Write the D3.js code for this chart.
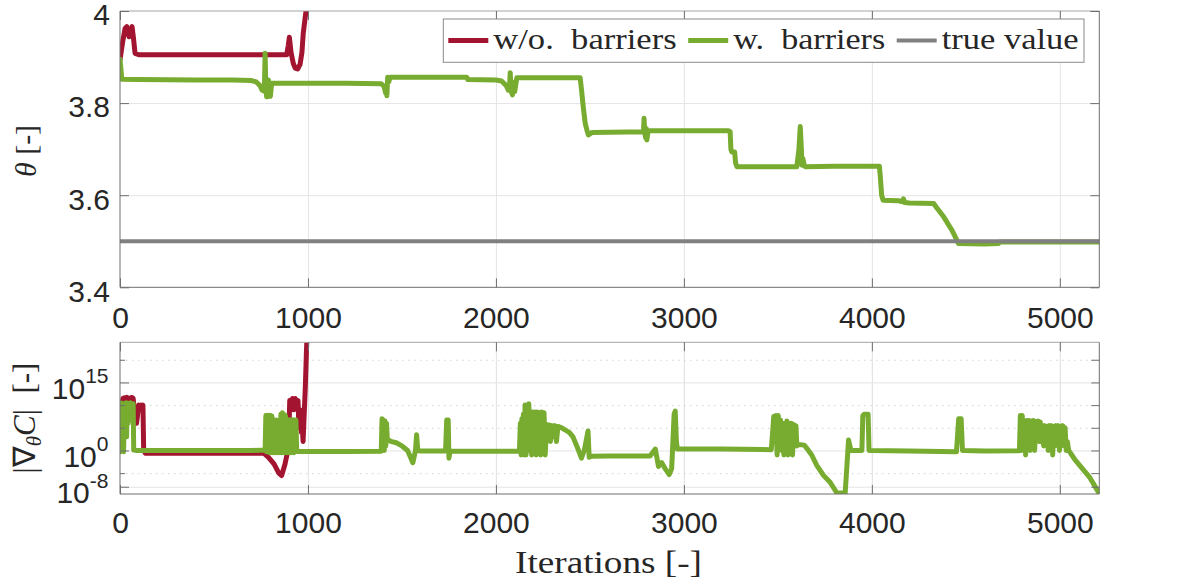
<!DOCTYPE html>
<html>
<head>
<meta charset="utf-8">
<script src="https://cdn.jsdelivr.net/npm/d3@7"></script>
<style>
  body { margin: 0; background: #fff; }
  svg { display: block; }
</style>
</head>
<body>
<svg id="chart" width="1196" height="587"></svg>
<script>
// ---- data ----
const iterMax = 5210;
const xTicks = [0, 1000, 2000, 3000, 4000, 5000];
const thetaTicks = [3.4, 3.6, 3.8, 4];
const gradMajorTicks = [1e-8, 1e0, 1e15];
const gradMinorTicks = [1e-5, 1e5, 1e10, 1e20];
const trueValue = 3.5;
const legendLabels = ['w/o. barriers', 'w. barriers', 'true value'];

// [iteration, theta]
const thetaNoBarrier = [
  [0, 3.894], [15, 3.935], [27, 3.962], [36, 3.966], [48, 3.944], [56, 3.955], [64, 3.966],
  [72, 3.94], [80, 3.908], [100, 3.905], [400, 3.905], [700, 3.905], [887, 3.905],
  [895, 3.925], [901, 3.943], [910, 3.91], [922, 3.886], [932, 3.876], [945, 3.874],
  [958, 3.884], [968, 3.91], [975, 3.952], [985, 3.985], [993, 4.01], [1000, 4.06]
];
const thetaBarrier = [
  [0, 3.895], [10, 3.852], [100, 3.851], [400, 3.850], [600, 3.850], [700, 3.849],
  [725, 3.846], [745, 3.838], [756, 3.828], [768, 3.826], [772, 3.908], [776, 3.83],
  [780, 3.814], [786, 3.814], [790, 3.85], [795, 3.816], [800, 3.815], [807, 3.843],
  [1000, 3.843], [1200, 3.843], [1390, 3.842], [1405, 3.836], [1413, 3.822], [1418, 3.83],
  [1420, 3.816], [1424, 3.856], [1430, 3.846], [1437, 3.856], [1600, 3.856], [1845, 3.856],
  [1850, 3.851], [2000, 3.850], [2030, 3.848], [2055, 3.838], [2066, 3.828], [2072, 3.834],
  [2076, 3.866], [2081, 3.826], [2088, 3.818], [2094, 3.845], [2100, 3.825], [2111, 3.855],
  [2300, 3.855], [2448, 3.855], [2455, 3.83], [2465, 3.79], [2475, 3.756], [2485, 3.74],
  [2492, 3.731], [2510, 3.736], [2700, 3.737], [2785, 3.737], [2788, 3.767], [2792, 3.735],
  [2797, 3.724], [2800, 3.745], [2803, 3.720], [2810, 3.74], [3000, 3.740], [3237, 3.740],
  [3246, 3.738], [3250, 3.70], [3255, 3.694], [3270, 3.694], [3275, 3.67], [3282, 3.662],
  [3450, 3.662], [3601, 3.662], [3612, 3.70], [3619, 3.749], [3625, 3.70], [3628, 3.665],
  [3633, 3.68], [3640, 3.665], [3645, 3.662], [3800, 3.663], [4040, 3.663], [4045, 3.64],
  [4052, 3.60], [4060, 3.589], [4140, 3.588], [4160, 3.586], [4168, 3.592], [4175, 3.584],
  [4200, 3.583], [4329, 3.582], [4346, 3.572], [4382, 3.553], [4426, 3.524], [4461, 3.495],
  [4600, 3.494], [4674, 3.495], [4680, 3.4985], [5210, 3.4985]
];

// [iteration, |grad C|]
const gradNoBarrier = [
  [0, 1e8], [4, 1e0], [9, 1e10], [16, 3e11], [24, 4e11], [30, 1e11], [36, 5e11], [44, 3e11],
  [50, 1e11], [56, 4e11], [64, 5e11], [70, 3e11], [76, 1e9], [82, 1e7], [88, 1e6], [94, 1e8],
  [100, 1e10], [106, 1e9], [112, 1e10], [118, 5e9], [122, 1e10], [126, 1e0], [135, 2.5e-1],
  [400, 2.5e-1], [765, 2.5e-1], [790, 3e-2], [820, 1e-3], [845, 1e-5], [860, 3e-6], [878, 1e-3],
  [893, 1e0], [898, 1e3], [903, 1e11], [910, 1e9], [918, 3e11], [925, 1e9], [932, 3e11],
  [940, 1e10], [947, 1e11], [952, 1e5], [958, 1e9], [965, 1e4], [970, 1e5], [974, 1e2],
  [980, 1e8], [986, 1e14], [992, 1e22], [1000, 1e30]
];
const gradBarrier = [
  [0, 1e10], [3, 5e-1], [7, 3e10], [12, 1e5], [16, 2e10], [19, 5e-1], [24, 2e10], [30, 3e10],
  [35, 1e3], [38, 3e10], [44, 1e6], [48, 2e10], [55, 3e10], [60, 1e8], [64, 2e10], [70, 2e10],
  [73, 1.2e0], [90, 1e0], [300, 1e0], [500, 1e0], [700, 1e0], [772, 1.2e0],
  [776, 5e7], [780, 5e-1], [784, 6e7], [788, 1e0], [792, 5e7], [796, 3e-1], [800, 6e7],
  [804, 1e1], [808, 4e7], [812, 3e-1], [816, 5e6], [820, 1e0], [824, 5e6], [828, 3e-1],
  [832, 5e6], [836, 1e1], [840, 4e6], [844, 3e-1], [848, 5e6], [852, 1e0], [856, 1e8],
  [860, 3e-1], [864, 2e8], [868, 1e1], [872, 1e8], [876, 3e-1], [880, 5e7], [884, 1e0],
  [888, 6e6], [892, 3e-1], [896, 5e6], [900, 1e1], [904, 6e6], [908, 3e-1], [912, 5e6],
  [916, 1e0], [920, 6e6], [924, 3e-1], [928, 5e6], [932, 1e0], [936, 5e6], [940, 6e-1],
  [1000, 6e-1], [1200, 6e-1], [1390, 7e-1],
  [1394, 1e7], [1398, 1e1], [1402, 5e6], [1406, 1e0], [1410, 3e6], [1414, 1e1], [1418, 1e6],
  [1422, 3e2], [1440, 1e2], [1470, 5e1], [1500, 1e1], [1530, 1e0], [1558, 2e-3], [1572, 1e0],
  [1578, 3e3], [1584, 1e0], [1600, 8e-1], [1732, 8e-1], [1738, 5e6], [1746, 5e6], [1750, 2e-2],
  [1756, 8e-1], [1900, 7e-1], [2125, 7e-1],
  [2130, 1e6], [2134, 1e-1], [2138, 1e7], [2142, 1e0], [2146, 1e8], [2150, 1e-1], [2155, 1e10],
  [2160, 1e-1], [2165, 1e10], [2170, 1e2], [2175, 2e10], [2180, 1e0], [2186, 3e8], [2190, 1e-1],
  [2196, 3e8], [2202, 1e3], [2208, 3e8], [2214, 1e-1], [2220, 3e8], [2226, 1e4], [2232, 2e8],
  [2238, 1e-1], [2244, 3e8], [2250, 1e3], [2256, 2e8], [2262, 1e-1], [2270, 5e5], [2276, 1e3],
  [2284, 4e5], [2290, 1e2], [2298, 3e5], [2306, 1e3], [2314, 3e5], [2322, 1e2], [2330, 2e5],
  [2350, 1e5], [2370, 3e4], [2390, 1e4], [2410, 1e3], [2430, 1e1], [2455, 2e-2], [2470, 1e0],
  [2490, 2e4], [2496, 3e-2], [2505, 5e-2], [2600, 6e-2], [2820, 6e-2], [2848, 2e0],
  [2865, 3e-4], [2882, 2e-3], [2900, 1e-4], [2922, 5e-6], [2935, 1e-4], [2948, 1e8],
  [2954, 5e8], [2960, 1e2], [2965, 2e0], [3200, 2e0], [3465, 1.5e0],
  [3472, 1e4], [3478, 3e7], [3484, 1e2], [3490, 5e7], [3496, 1e-1], [3502, 5e7], [3508, 1e3],
  [3514, 5e6], [3520, 1e0], [3526, 1e6], [3532, 1e-1], [3538, 1e6], [3544, 1e2], [3548, 3e6],
  [3554, 1e-1], [3560, 1e6], [3566, 1e1], [3572, 1e6], [3578, 1e-1], [3584, 5e5], [3590, 1e1],
  [3596, 3e5], [3601, 1e1], [3610, 2e1], [3640, 1.5e1], [3654, 3e0], [3680, 1e-1],
  [3707, 5e-4], [3743, 3e-6], [3778, 1e-7], [3814, 4e-10], [3858, 4e-10], [3876, 2e2],
  [3889, 1e0], [3947, 1e0], [3952, 5e7], [3960, 1e8], [3980, 1e8], [3985, 1e0], [3992, 1e0],
  [4200, 8e-1], [4450, 5e-1], [4462, 1e7], [4475, 1e7], [4482, 1e0], [4489, 1e0],
  [4600, 8e-1], [4785, 9e-1],
  [4790, 5e7], [4795, 1e0], [4800, 5e7], [4806, 1e1], [4812, 3e6], [4818, 1e-1], [4824, 4e6],
  [4830, 1e1], [4836, 4e6], [4842, 1e0], [4848, 3e6], [4854, 1e2], [4860, 4e6], [4866, 1e0],
  [4872, 2e6], [4878, 1e3], [4884, 3e6], [4890, 1e2], [4896, 2e6], [4902, 1e2], [4908, 3e5],
  [4914, 1e1], [4920, 3e5], [4926, 1e2], [4932, 2e5], [4938, 1e0], [4944, 3e5], [4950, 1e1],
  [4956, 3e5], [4962, 1e-1], [4968, 2e5], [4974, 1e1], [4980, 3e5], [4986, 1e2], [4992, 3e5],
  [4998, 1e0], [5004, 2e5], [5010, 1e1], [5016, 3e5], [5022, 1e2], [5028, 1e5], [5034, 1e0],
  [5040, 1e2], [5047, 1e0], [5080, 1e-2], [5120, 1e-4], [5160, 1e-6], [5207, 5e-10]
];

// ---- layout ----
const colors = ['#A2142F', '#77AC30', '#808080'];
const axisColor = '#6e6e6e';
const gridColor = '#e4e4e4';
const textColor = '#262626';
const sansFont = '"Liberation Sans", Arial, Helvetica, sans-serif';
const serifFont = '"Liberation Serif", "Times New Roman", serif';

const plotLeft = 120, plotRight = 1099.3;
const top1 = 11, bot1 = 287.3;
const top2 = 342.3, bot2 = 494;

const svg = d3.select('#chart');

const x = d3.scaleLinear().domain([0, iterMax]).range([plotLeft, plotRight]);
const yTheta = d3.scaleLinear().domain([3.4, 4]).range([bot1, top1]);
const yGrad = d3.scaleLog().domain([Math.pow(10, -9.6), Math.pow(10, 23.85)]).range([bot2, top2]);

const defs = svg.append('defs');
[['clipTop', top1, bot1], ['clipBot', top2, bot2]].forEach(([id, t, b]) => {
    defs.append('clipPath').attr('id', id)
        .append('rect')
        .attr('x', plotLeft).attr('y', t)
        .attr('width', plotRight - plotLeft).attr('height', b - t);
});

function styleAxis (g) {
    g.attr('font-family', sansFont).attr('font-size', 30);
    g.select('.domain').remove();
    g.selectAll('.tick line').attr('stroke', axisColor);
    g.selectAll('.tick text').attr('fill', textColor);
}

function drawGrid (yScale, yGridTicks, top, bot, dashed) {
    const g = svg.append('g');
    g.append('g')
        .attr('transform', `translate(0,${bot})`)
        .call(d3.axisBottom(x).tickValues(xTicks.slice(1)).tickSize(-(bot - top)).tickFormat(''))
        .call(s => s.select('.domain').remove())
        .selectAll('line').attr('stroke', gridColor);
    g.append('g')
        .attr('transform', `translate(${plotLeft},0)`)
        .call(d3.axisLeft(yScale).tickValues(yGridTicks).tickSize(-(plotRight - plotLeft)).tickFormat(''))
        .call(s => s.select('.domain').remove())
        .selectAll('line')
        .attr('stroke', dashed ? '#d2d2d2' : gridColor)
        .attr('stroke-dasharray', dashed ? '1.5,4.5' : null);
}

function drawBox (top, bot) {
    const g = svg.append('g').attr('fill', 'none').attr('stroke-width', 1);
    g.append('line').attr('x1', plotLeft).attr('x2', plotRight).attr('y1', top).attr('y2', top).attr('stroke', '#a4a4a4');
    g.append('line').attr('x1', plotLeft).attr('x2', plotRight).attr('y1', bot).attr('y2', bot).attr('stroke', axisColor);
    g.append('line').attr('x1', plotLeft).attr('x2', plotLeft).attr('y1', top).attr('y2', bot).attr('stroke', axisColor);
    g.append('line').attr('x1', plotRight).attr('x2', plotRight).attr('y1', top).attr('y2', bot).attr('stroke', axisColor);
}

function drawXAxes (top, bot, padding) {
    svg.append('g')
        .attr('transform', `translate(0,${bot})`)
        .call(d3.axisBottom(x).tickValues(xTicks).tickSize(-9).tickPadding(padding).tickFormat(d3.format('d')))
        .call(styleAxis);
    svg.append('g')
        .attr('transform', `translate(0,${top})`)
        .call(d3.axisTop(x).tickValues(xTicks).tickSize(-9).tickFormat(''))
        .call(styleAxis);
}

function drawSeries (data, yScale, color, clipId, width) {
    const line = d3.line().x(d => x(d[0])).y(d => yScale(d[1]));
    svg.append('path')
        .datum(data)
        .attr('clip-path', `url(#${clipId})`)
        .attr('fill', 'none')
        .attr('stroke', color)
        .attr('stroke-width', width)
        .attr('stroke-linejoin', 'round')
        .attr('stroke-linecap', 'round')
        .attr('d', line);
}

// ---- top panel: theta ----
drawGrid(yTheta, [3.6, 3.8], top1, bot1, false);
drawSeries(thetaNoBarrier, yTheta, colors[0], 'clipTop', 5);
drawSeries(thetaBarrier, yTheta, colors[1], 'clipTop', 5);
drawSeries([[0, trueValue], [iterMax, trueValue]], yTheta, colors[2], 'clipTop', 4);
drawBox(top1, bot1);
drawXAxes(top1, bot1, 19.4);
svg.append('g')
    .attr('transform', `translate(${plotLeft},0)`)
    .call(d3.axisLeft(yTheta).tickValues(thetaTicks).tickSize(-9).tickPadding(10).tickFormat(d3.format('~g')))
    .call(styleAxis)
    .call(g => g.selectAll('.tick text').attr('dy', '0.46em'));
svg.append('g')
    .attr('transform', `translate(${plotRight},0)`)
    .call(d3.axisRight(yTheta).tickValues(thetaTicks).tickSize(-9).tickFormat(''))
    .call(styleAxis);

// ---- bottom panel: gradient norm ----
drawGrid(yGrad, gradMajorTicks, top2, bot2, false);
drawGrid(yGrad, gradMinorTicks, top2, bot2, true);
drawSeries(gradNoBarrier, yGrad, colors[0], 'clipBot', 5);
drawSeries(gradBarrier, yGrad, colors[1], 'clipBot', 5);
drawBox(top2, bot2);
drawXAxes(top2, bot2, 18);

const gradLeft = svg.append('g')
    .attr('transform', `translate(${plotLeft},0)`)
    .call(d3.axisLeft(yGrad).tickValues(gradMajorTicks).tickSize(-9).tickFormat(''))
    .call(styleAxis);
gradLeft.selectAll('.tick text').remove();
gradLeft.selectAll('.tick').each(function (d) {
    const t = d3.select(this).append('text')
        .attr('x', -11.5).attr('y', 16)
        .attr('text-anchor', 'end')
        .attr('fill', textColor)
        .attr('font-size', 30);
    t.append('tspan').text('10');
    t.append('tspan').attr('dy', -15.5).attr('font-size', 21).text(Math.round(Math.log10(d)));
});
svg.append('g')
    .attr('transform', `translate(${plotLeft},0)`)
    .call(d3.axisLeft(yGrad).tickValues(gradMinorTicks).tickSize(-5).tickFormat(''))
    .call(styleAxis);
svg.append('g')
    .attr('transform', `translate(${plotRight},0)`)
    .call(d3.axisRight(yGrad).tickValues(gradMajorTicks.concat(gradMinorTicks)).tickSize(-8).tickFormat(''))
    .call(styleAxis);

// ---- axis labels ----
const thetaLabel = svg.append('text')
    .attr('transform', `translate(36,151) rotate(-90)`)
    .attr('text-anchor', 'middle')
    .attr('font-family', serifFont)
    .attr('font-size', 30)
    .attr('fill', textColor);
thetaLabel.append('tspan').attr('font-style', 'italic').text('θ');
thetaLabel.append('tspan').text(' [-]');

const gradLabel = svg.append('text')
    .attr('transform', `translate(35,418) rotate(-90)`)
    .attr('text-anchor', 'middle')
    .attr('font-family', serifFont)
    .attr('font-size', 31)
    .attr('fill', textColor);
gradLabel.append('tspan').text('|∇');
gradLabel.append('tspan').attr('font-style', 'italic').attr('font-size', 21).attr('dy', 6).text('θ');
gradLabel.append('tspan').attr('font-style', 'italic').attr('dy', -6).text('C');
gradLabel.append('tspan').text('|  [-]');
gradLabel.style('white-space', 'pre');

svg.append('text')
    .attr('x', 608.5).attr('y', 573)
    .attr('text-anchor', 'middle')
    .attr('font-family', serifFont)
    .attr('font-size', 32)
    .attr('fill', textColor)
    .attr('textLength', 187)
    .attr('lengthAdjust', 'spacingAndGlyphs')
    .text('Iterations [-]');

// ---- legend ----
const legendBox = { x: 443.3, y: 19, w: 640.7, h: 43.3 };
const legendTextWidths = [183.4, 152, 137];
svg.append('rect')
    .attr('x', legendBox.x).attr('y', legendBox.y)
    .attr('width', legendBox.w).attr('height', legendBox.h)
    .attr('fill', '#fff').attr('stroke', '#8a8a8a').attr('stroke-width', 1);
let lx = legendBox.x + 5;
legendLabels.forEach((label, i) => {
    svg.append('line')
        .attr('x1', lx).attr('x2', lx + 40)
        .attr('y1', 40.5).attr('y2', 40.5)
        .attr('stroke', colors[i]).attr('stroke-width', i === 2 ? 4 : 5);
    svg.append('text')
        .attr('x', lx + 45).attr('y', 48.5)
        .attr('font-family', serifFont)
        .attr('font-size', 30)
        .attr('fill', textColor)
        .style('white-space', 'pre')
        .attr('textLength', legendTextWidths[i])
        .attr('lengthAdjust', 'spacingAndGlyphs')
        .text(label.replace('. ', '.  '));
    lx += 45 + legendTextWidths[i] + 11.5;
});
</script>
</body>
</html>
